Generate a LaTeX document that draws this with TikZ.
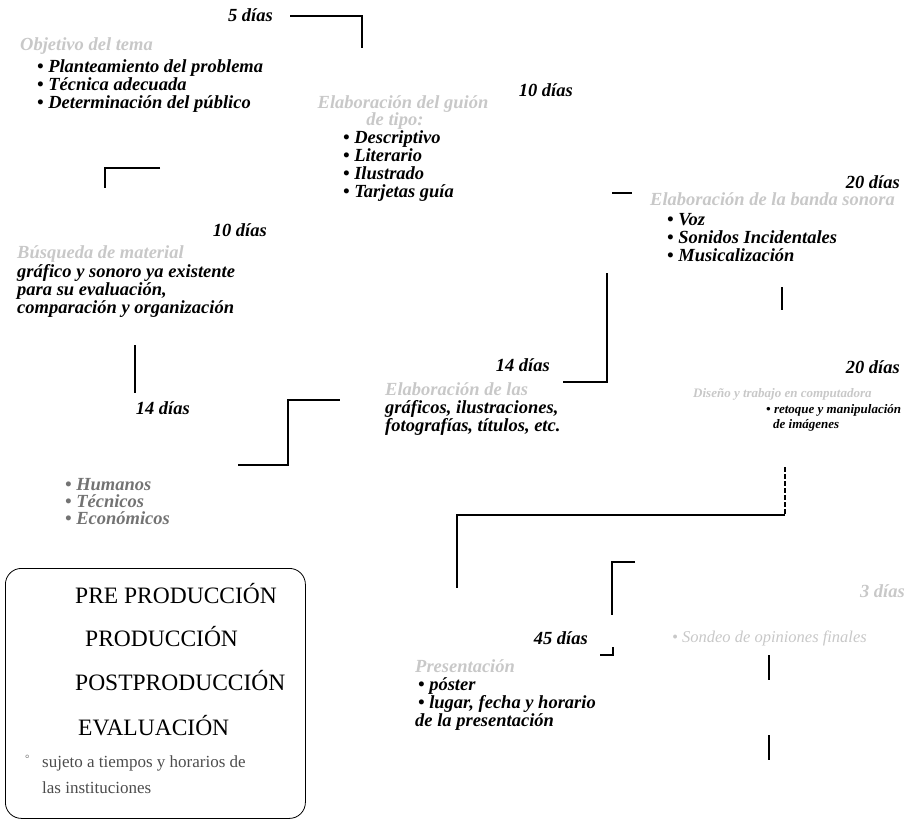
\documentclass[tikz,border=0pt]{standalone}
\usepackage{fontspec}
\setmainfont{Liberation Serif}
\usetikzlibrary{positioning}
\definecolor{faded}{RGB}{200,200,200}
\newcommand{\bul}{\textbullet\ }

\begin{document}
\begin{tikzpicture}[x=1pt, y=-1pt,
  every node/.style={inner sep=0pt, anchor=base west, font=\fontsize{18.5}{18}\selectfont\bfseries\itshape},
  dias/.style={anchor=base east},
  head/.style={text=faded},
  dim/.style={text=black!55},
  small/.style={font=\fontsize{13}{15}\selectfont\bfseries\itshape},
  phase/.style={font=\fontsize{23.5}{26}\selectfont},
  link/.style={line width=1.1pt}]
  \useasboundingbox (0,0) rectangle (906,820);

  % planteamiento
  \node[dias] (d5) at (273,21) {5 días};
  \node[head] (obj) at (20,50) {Objetivo del tema};
  \foreach \t [count=\i] in {Planteamiento del problema, Técnica adecuada, Determinación del público}
    \node (plan\i) at (37,54+18*\i) {\bul\t};
  \coordinate (c5a) at (290,16); \coordinate (c5b) at (362,16); \coordinate (c5c) at (362,48);
  \draw[link] (c5a) -- (c5b) -- (c5c);

  % guion
  \node[dias] (d10a) at (573,96) {10 días};
  \node[head, anchor=base] (guion) at (403,108) {Elaboración del guión};
  \node[head, anchor=base] (guion2) at (395,125) {de tipo:};
  \foreach \t [count=\i] in {Descriptivo, Literario, Ilustrado, Tarjetas guía}
    \node (tipo\i) at (343,125+18*\i) {\bul\t};
  \coordinate (g1) at (160,168); \coordinate (g2) at (105,168); \coordinate (g3) at (105,188);
  \draw[link] (g1) -- (g2) -- (g3);

  % material existente
  \node[dias] (d10b) at (267,236) {10 días};
  \node[head] (busq) at (17,258) {Búsqueda de material};
  \foreach \t [count=\i] in {gráfico y sonoro ya existente, {para su evaluación,}, comparación y organización}
    \node (mat\i) at (17,259+18*\i) {\t};
  \coordinate (m1) at (135,345); \coordinate (m2) at (135,393);
  \draw[link] (m1) -- (m2);

  % banda sonora
  \node[dias] (d20a) at (900,188) {20 días};
  \node[head] (banda) at (650,205) {Elaboración de la banda sonora};
  \foreach \t [count=\i] in {Voz, Sonidos Incidentales, Musicalización}
    \node (son\i) at (667,207+18*\i) {\bul\t};
  \coordinate (b1) at (782,287); \coordinate (b2) at (782,310);
  \draw[link] (b1) -- (b2);
  \coordinate (b3) at (612,193); \coordinate (b4) at (632,193);
  \draw[link] (b3) -- (b4);

  % graficos
  \node[dias] (d14a) at (550,371) {14 días};
  \node[head] (elab) at (385,395) {Elaboración de las};
  \node (graf1) at (385,413) {gráficos, ilustraciones,};
  \node (graf2) at (385,431) {fotografías, títulos, etc.};
  \coordinate (e1) at (563,382); \coordinate (e2) at (607,382); \coordinate (e3) at (607,273);
  \draw[link] (e1) -- (e2) -- (e3);

  % computadora
  \node[dias] (d20b) at (900,373) {20 días};
  \node[head, small] (comp) at (693,397) {Diseño y trabajo en computadora};
  \node[small] (ret1) at (766,413) {\bul retoque y manipulación};
  \node[small] (ret2) at (773,428) {de imágenes};
  \coordinate (r1) at (785,467); \coordinate (r2) at (785,515);
  \coordinate (r3) at (457,515); \coordinate (r4) at (457,588);
  \draw[link, dash pattern=on 5pt off 2pt] (r1) -- (r2);
  \draw[link] (r2) -- (r3) -- (r4);

  % recursos
  \node[dias] (d14b) at (190,414) {14 días};
  \foreach \t [count=\i] in {Humanos, Técnicos, Económicos}
    \node[dim] (rec\i) at (65,473+17*\i) {\bul\t};
  \coordinate (k1) at (238,465); \coordinate (k2) at (288,465);
  \coordinate (k3) at (288,400); \coordinate (k4) at (340,400);
  \draw[link] (k1) -- (k2) -- (k3) -- (k4);

  % leyenda
  \node[draw, line width=0.8pt, rounded corners=16pt, minimum width=300pt, minimum height=250pt, anchor=north west] (leyenda) at (5,568) {};
  \node[phase] (pre) at (75,603) {PRE PRODUCCIÓN};
  \node[phase] (prod) at (85,646) {PRODUCCIÓN};
  \node[phase] (post) at (75,690) {POSTPRODUCCIÓN};
  \node[phase] (eval) at (78,735) {EVALUACIÓN};
  \node[font=\fontsize{11}{12}\selectfont, text=black!60] (grado) at (25,762) {°};
  \node[font=\fontsize{17}{18}\selectfont, text=black!70] (suj1) at (42,767) {sujeto a tiempos y horarios de};
  \node[font=\fontsize{17}{18}\selectfont, text=black!70] (suj2) at (42,793) {las instituciones};

  % presentacion
  \node[dias] (d45) at (588,644) {45 días};
  \node[head] (pres) at (415,672) {Presentación};
  \node (pos) at (418,690) {\bul póster};
  \node (lug) at (418,708) {\bul lugar, fecha y horario};
  \node (lug2) at (415,726) {de la presentación};
  \coordinate (p1) at (600,655); \coordinate (p2) at (613,655); \coordinate (p3) at (613,647);
  \draw[link] (p1) -- (p2) -- (p3);
  \coordinate (q1) at (635,562); \coordinate (q2) at (612,562); \coordinate (q3) at (612,615);
  \draw[link] (q1) -- (q2) -- (q3);

  % sondeo
  \node[dias, head] (d3) at (905,597) {3 días};
  \node[head, font=\fontsize{16.5}{18}\selectfont\itshape] (sondeo) at (672,642) {\bul Sondeo de opiniones finales};
  \coordinate (s1) at (769,655); \coordinate (s2) at (769,680);
  \coordinate (s3) at (769,735); \coordinate (s4) at (769,760);
  \draw[link] (s1) -- (s2);
  \draw[link] (s3) -- (s4);
\end{tikzpicture}
\end{document}
